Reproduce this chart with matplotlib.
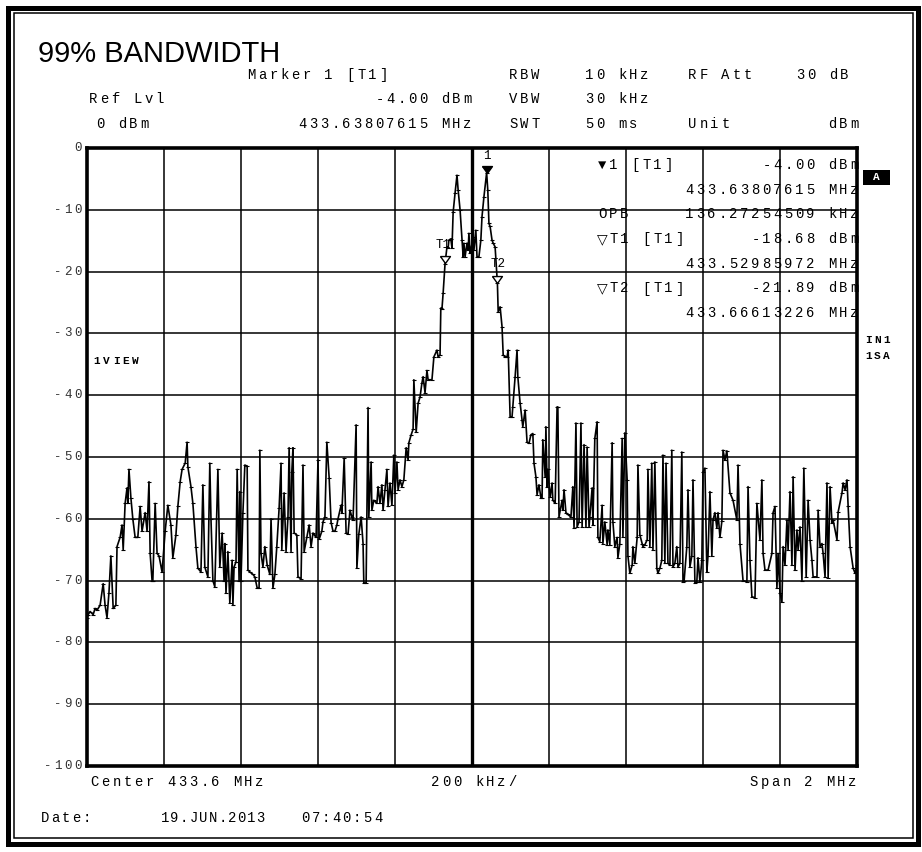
import numpy as np
import matplotlib
matplotlib.use("Agg")
import matplotlib.pyplot as plt
from matplotlib.patches import Rectangle
from matplotlib.transforms import offset_copy, blended_transform_factory

W, H = 922, 852

start_mhz = 432.6
span_mhz = 2.0
level_ticks = [0, -10, -20, -30, -40, -50, -60, -70, -80, -90, -100]

# sweep trace: offset from start frequency (kHz) and level (dBm)
trace_khz = [
    0, 3, 8, 16, 21, 26, 34, 42, 47, 52, 57, 62, 68, 75, 78, 86, 91, 94, 99, 104,
    106, 109, 114, 119, 125, 132, 138, 143, 151, 156, 161, 164, 169, 171, 177, 182, 187, 195, 203, 210,
    218, 223, 231, 236, 242, 247, 255, 260, 262, 270, 275, 283, 288, 296, 301, 306, 314, 319, 322, 327,
    332, 340, 345, 351, 356, 358, 361, 366, 371, 377, 379, 382, 387, 390, 395, 397, 400, 405, 410, 416,
    418, 423, 431, 436, 442, 447, 449, 452, 457, 462, 468, 475, 478, 483, 488, 493, 499, 504, 506, 512,
    517, 522, 525, 530, 532, 535, 538, 545, 548, 556, 561, 564, 571, 577, 582, 587, 595, 600, 603, 610,
    613, 618, 623, 629, 634, 639, 644, 649, 652, 660, 662, 668, 673, 678, 683, 688, 691, 699, 701, 706,
    712, 717, 719, 725, 730, 732, 738, 740, 745, 753, 756, 761, 766, 769, 774, 779, 782, 787, 792, 797,
    800, 805, 808, 813, 818, 823, 829, 834, 836, 842, 847, 849, 855, 860, 865, 870, 873, 878, 883, 886,
    896, 901, 909, 912, 917, 919, 922, 925, 930, 935, 938, 940, 945, 948, 951, 956, 961, 964, 969, 974,
    977, 979, 982, 987, 990, 992, 995, 997, 1003, 1005, 1010, 1013, 1018, 1023, 1026, 1031, 1038, 1041, 1044, 1047,
    1052, 1055, 1060, 1066, 1068, 1073, 1078, 1081, 1086, 1091, 1094, 1099, 1104, 1106, 1112, 1117, 1119, 1125, 1130, 1132,
    1138, 1143, 1148, 1153, 1158, 1161, 1166, 1169, 1174, 1179, 1182, 1184, 1190, 1192, 1195, 1197, 1203, 1208, 1210, 1216,
    1221, 1223, 1226, 1234, 1236, 1239, 1244, 1249, 1257, 1262, 1265, 1270, 1273, 1278, 1283, 1286, 1291, 1296, 1299, 1304,
    1306, 1312, 1314, 1319, 1325, 1327, 1332, 1338, 1340, 1345, 1351, 1353, 1358, 1364, 1366, 1371, 1377, 1379, 1384, 1390,
    1392, 1397, 1403, 1405, 1410, 1416, 1418, 1423, 1429, 1431, 1436, 1442, 1444, 1449, 1455, 1457, 1462, 1467, 1470, 1475,
    1480, 1483, 1488, 1493, 1496, 1501, 1504, 1509, 1514, 1519, 1522, 1527, 1532, 1535, 1540, 1545, 1548, 1551, 1558, 1561,
    1566, 1571, 1574, 1579, 1584, 1587, 1592, 1597, 1600, 1605, 1610, 1613, 1618, 1623, 1626, 1631, 1636, 1639, 1644, 1649,
    1652, 1657, 1662, 1670, 1678, 1688, 1691, 1696, 1704, 1714, 1717, 1722, 1727, 1735, 1740, 1748, 1753, 1756, 1761, 1769,
    1779, 1782, 1787, 1792, 1795, 1800, 1805, 1808, 1813, 1818, 1821, 1826, 1831, 1834, 1839, 1844, 1847, 1852, 1857, 1862,
    1868, 1873, 1878, 1883, 1886, 1896, 1899, 1904, 1909, 1912, 1917, 1922, 1925, 1930, 1935, 1938, 1948, 1951, 1961, 1964,
    1969, 1974, 1977, 1982, 1990, 1995, 2000,
]
trace_dbm = [
    -76, -75.5, -75, -75.5, -74.5, -74.8, -74, -70.5, -74, -76, -72, -66, -74.5, -74, -64.5, -63, -61, -65, -57.5, -55,
    -57.5, -52, -56.6, -60, -63, -63, -58, -62, -59, -62, -54, -65.6, -70, -70, -57.5, -65.6, -66, -68.6, -62, -57.8,
    -61, -66.3, -62.6, -58, -54, -52, -51, -47.6, -51.6, -54.8, -57.5, -64.5, -68, -68.6, -54.5, -67.8, -69.4, -51, -60, -70,
    -71, -52, -67.8, -62.3, -70, -64, -72, -65.3, -73.6, -66.7, -74, -67.8, -67, -52, -70, -55.6, -70, -59, -51.3, -51.5,
    -68.3, -68.6, -69, -69.4, -71.2, -71.2, -48.9, -65.6, -67.8, -64.5, -67.5, -69, -60, -71.2, -69, -64.5, -58.3, -51, -65, -55.8,
    -65.3, -59.7, -48.5, -65.3, -52.4, -48.5, -62.3, -62.6, -69.4, -69.7, -51.3, -65.3, -63, -61, -64.5, -62.3, -63, -50.5, -63.3, -62,
    -60.5, -59.7, -47.6, -53.4, -60.6, -62, -62, -61, -60, -57.8, -59, -50.2, -62.3, -62.5, -58.6, -59.7, -60.2, -44.8, -68, -62.5,
    -59.7, -64, -70.4, -70.4, -42, -59.7, -50.8, -58.6, -57, -57.5, -54.8, -57.5, -54.5, -58.6, -55.3, -52, -58, -54.2, -57.8, -49.7,
    -55.8, -50.8, -55.3, -53.7, -54.8, -53.7, -48.5, -50.5, -47.7, -46.4, -45.5, -37.5, -46, -41.3, -40.3, -38, -37, -39.6, -36, -37.5,
    -37.5, -33.8, -32.7, -33.8, -33.5, -25.9, -26, -23.5, -18.7, -16, -16.2, -14.9, -14.7, -16.2, -10.4, -7.3, -4.4, -6.8, -10, -14.9,
    -17.6, -15.4, -17.6, -15.4, -16.5, -13.8, -17, -16.5, -14.4, -16.5, -13.3, -17.6, -17.6, -14.9, -11.1, -7.9, -4.0, -6.8, -12.2, -12.7,
    -14.9, -15.4, -16, -21.9, -26.5, -25.7, -28.9, -33.5, -33.8, -33.8, -32.7, -43.5, -43.5, -41.9, -37, -32.7, -37, -41.3, -44, -45.1,
    -42.4, -47.6, -47.8, -46.4, -46.2, -51, -53.2, -56.1, -54.5, -56.6, -56.6, -47.2, -53.2, -45.1, -54.8, -52, -56.5, -54.2, -57, -57.5,
    -41.9, -41.9, -59.7, -57, -58.6, -55.3, -59, -59.3, -59.7, -54.8, -61.5, -44.5, -61.3, -60.5, -44.5, -61.3, -48, -61.3, -48.4, -61.3,
    -59.7, -55, -61, -47, -44.3, -63, -63.7, -57.8, -64, -60.5, -64.2, -61.8, -64.2, -47.7, -60.5, -64.5, -63, -66.3, -64, -47,
    -62.9, -46.1, -53.7, -66, -68.8, -67.5, -64.5, -67.2, -63, -51.3, -62.6, -64, -64.5, -64.2, -63.4, -52, -64.5, -51, -65, -50.8,
    -68, -68.8, -68, -66.7, -49.7, -67.2, -51, -67.2, -67.5, -48.9, -67.8, -67.2, -64.5, -67.8, -67.2, -49.2, -70.2, -70, -64.5, -55.3,
    -67.8, -66, -53.7, -70.4, -70.2, -66.3, -70.2, -66.7, -52.4, -51.8, -68.6, -66, -55.6, -66, -60.2, -59, -61.5, -59, -63, -60.4,
    -48.9, -50.5, -49, -55.8, -57, -60.2, -51.3, -64, -70, -70.2, -54.8, -66.7, -72.6, -72.8, -57.5, -63.4, -53.7, -65.6, -68.3, -68.3,
    -65.6, -59, -58, -71.2, -65.6, -72, -73.5, -64.5, -67.5, -60.2, -65, -55.6, -67.5, -53.2, -68.3, -61.8, -65, -61.3, -70, -51.8,
    -69.4, -57, -63.4, -66.7, -69.4, -69.4, -58.6, -64.5, -64, -65.6, -69.4, -54.2, -69.6, -54.8, -60.7, -60.2, -63.4, -58.9, -55.8, -54.2,
    -55.3, -53.7, -58, -64.5, -68, -68.8, -67.5,
]

# markers
marker_names = ["1", "T1", "T2"]
marker_mhz = [433.63807615, 433.52985972, 433.66613226]
marker_dbm = [-4.00, -18.68, -21.89]
obw_khz = 136.27254509

MONO = ["Liberation Mono", "DejaVu Sans"]

fig = plt.figure(figsize=(W / 100, H / 100), dpi=100)
fig.patch.set_facecolor("white")

ax = fig.add_axes([87 / W, 1 - 766 / H, 770 / W, 618 / H])
freq = start_mhz + np.array(trace_khz) / 1000.0
ax.plot(freq, trace_dbm, color="black", lw=1.2, marker="_", ms=2.5, mew=0.8, zorder=3)

ax.set_xlim(start_mhz, start_mhz + span_mhz)
ax.set_ylim(level_ticks[-1], level_ticks[0])
ax.set_xticks(np.linspace(start_mhz, start_mhz + span_mhz, 11))
ax.set_yticks(level_ticks)
ax.grid(True, color="black", lw=1.1)
ax.axvline(start_mhz + span_mhz / 2, color="black", lw=2.4)
ax.tick_params(length=0, labelbottom=False, labelleft=False)
for sp in ax.spines.values():
    sp.set_linewidth(2.6)

# marker triangles, tip on the marker level
tri = [(-1.0, 1.4), (1.0, 1.4), (0.0, 0.0), (-1.0, 1.4)]
label_offsets = [(0, 17), (-2, 18), (1, 19)]
for i, name in enumerate(marker_names):
    face = "black" if i == 0 else "white"
    ax.plot(marker_mhz[i], marker_dbm[i], marker=tri, ms=10, mfc=face, mec="black",
            mew=1.0, zorder=5, clip_on=False)
    dx, dy = label_offsets[i]
    ax.annotate(name, (marker_mhz[i], marker_dbm[i]), xytext=(dx, dy),
                textcoords="offset pixels", ha="center", va="center",
                fontsize=9, family=MONO, zorder=6)


def mono(x, y, s, pitch=11.0, align="left", size=10, trans=None, **kw):
    # draws a string on a fixed character grid, like the instrument screen
    if trans is None:
        trans = fig.transFigure
        x, y = x / W, 1 - y / H
    x0 = 0 if align == "left" else -len(s) * pitch
    for i, ch in enumerate(s):
        if ch == " ":
            continue
        t = offset_copy(trans, fig=fig, x=x0 + (i + 0.5) * pitch, y=0, units="dots")
        fig.text(x, y, ch, transform=t, ha="center", va="center",
                 fontsize=size, family=MONO, **kw)


fig.text(38 / W, 1 - 62 / H, "99% BANDWIDTH", fontsize=21,
         family="Liberation Sans", va="baseline")

# settings header
mono(246, 75, "Marker 1 [T1]")
mono(508, 75, "RBW")
mono(584, 75, "10 kHz")
mono(687, 75, "RF Att")
mono(795, 75, "30 dB")
mono(88, 99, "Ref Lvl")
mono(473, 99, f"{marker_dbm[0]:.2f} dBm", align="right")
mono(508, 99, "VBW")
mono(584, 99, "30 kHz")
mono(95, 124, f"{level_ticks[0]} dBm")
mono(473, 124, f"{marker_mhz[0]:.8f} MHz", align="right")
mono(508, 124, "SWT")
mono(584, 124, "50 ms")
mono(687, 124, "Unit")
mono(860, 124, "dBm", align="right")

# marker readout inside the grid
rows = [
    ("\u25bc1 [T1]", f"{marker_dbm[0]:.2f} dBm"),
    ("", f"{marker_mhz[0]:.8f} MHz"),
    ("OPB", f"{obw_khz:.8f} kHz"),
    ("\u25bdT1 [T1]", f"{marker_dbm[1]:.2f} dBm"),
    ("", f"{marker_mhz[1]:.8f} MHz"),
    ("\u25bdT2 [T1]", f"{marker_dbm[2]:.2f} dBm"),
    ("", f"{marker_mhz[2]:.8f} MHz"),
]
for k, (left, right) in enumerate(rows):
    y = 165 + k * 24.7
    if left:
        mono(597, y, left)
    mono(860, y, right, align="right")

# level axis labels
ylab = blended_transform_factory(fig.transFigure, ax.transData)
for lvl in level_ticks:
    mono(83 / W, lvl, str(lvl), pitch=10.0, align="right", size=9,
         trans=ylab, color="#333333")

# side annotations
mono(92, 361, "1VIEW", pitch=9.6, size=8, fontweight="bold")
mono(864, 340, "IN1", pitch=9.0, size=8, fontweight="bold")
mono(864, 356, "1SA", pitch=9.0, size=8, fontweight="bold")
fig.add_artist(Rectangle((863 / W, 1 - 185 / H), 27 / W, 15 / H,
                         transform=fig.transFigure, facecolor="black", edgecolor="none"))
fig.text(876.5 / W, 1 - 177.5 / H, "A", color="white", fontsize=8,
         fontweight="bold", family=MONO, ha="center", va="center")

# span footer
mono(89, 782, f"Center {start_mhz + span_mhz / 2:.1f} MHz")
mono(430, 782, f"{span_mhz * 1000 / 10:.0f} kHz/")
mono(858, 782, f"Span {span_mhz:.0f} MHz", align="right")
mono(40, 818, "Date:", pitch=10.5)
mono(160, 818, "19.JUN.2013", pitch=9.6)
mono(300, 818, "07:40:54", pitch=10.4)

# double screen frame
fig.add_artist(Rectangle((8 / W, 8 / H), 910 / W, 836 / H, transform=fig.transFigure,
                         fill=False, edgecolor="black", lw=3.6))
fig.add_artist(Rectangle((14 / W, 14 / H), 899 / W, 825 / H, transform=fig.transFigure,
                         fill=False, edgecolor="black", lw=1.1))

fig.savefig("out.png", dpi=100)
